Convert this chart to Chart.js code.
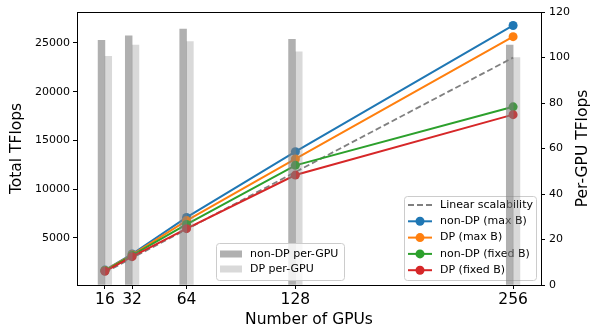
<!DOCTYPE html>
<html>
<head>
<meta charset="utf-8">
<script src="https://cdn.jsdelivr.net/npm/chart.js@4/dist/chart.umd.min.js"></script>
<style>
  html, body { margin: 0; padding: 0; background: #fff; }
</style>
</head>
<body>
<canvas id="chart" width="595" height="329"></canvas>
<script>
/* Scaling of total and per-GPU TFlops */

Chart.defaults.font.family = "'DejaVu Sans', sans-serif";
Chart.defaults.color = '#000';

/* Data */
var GPUS = [16, 32, 64, 128, 256];
var LINEAR = [1470, 2940, 5880, 11760, 23500];
var NONDP_MAX = [1700, 3350, 7100, 13850, 26800];
var DP_MAX = [1660, 3270, 6780, 13100, 25650];
var NONDP_FIXED = [1630, 3200, 6380, 12450, 18450];
var DP_FIXED = [1580, 3080, 5950, 11450, 17650];
var NONDP_PER_GPU = [107.5, 109.5, 112.5, 108, 105.5];
var DP_PER_GPU = [100.5, 105.5, 107, 102.5, 100];

var X_TICKS = [16, 32, 64, 128, 256];
var LEFT_TICKS = [5000, 10000, 15000, 20000, 25000];
var RIGHT_TICKS = [0, 20, 40, 60, 80, 100, 120];

var LINE_LABELS = ['Linear scalability', 'non-DP (max B)', 'DP (max B)', 'non-DP (fixed B)', 'DP (fixed B)'];
var BAR_LABELS = ['non-DP per-GPU', 'DP per-GPU'];

/* Palette */
var C = { blue: '#1f77b4', orange: '#ff7f0e', green: '#2ca02c', red: '#d62728', dash: '#808080',
          barDark: 'rgba(128,128,128,0.62)', barLight: 'rgba(128,128,128,0.3)' };
var LINE_COLORS = [C.dash, C.blue, C.orange, C.green, C.red];
var BAR_COLORS = [C.barDark, C.barLight];
var BAR_SHIFT = 2;   // bars sit either side of each GPU count
var LEGEND_FONT = "11px 'DejaVu Sans', sans-serif";

function pts(xs, ys) {
  return xs.map(function(x, i) { return { x: x, y: ys[i] }; });
}

function lineSet(label, values, color, order) {
  return { type: 'line', label: label, data: pts(GPUS, values), yAxisID: 'y', order: order,
           borderColor: color, backgroundColor: color, borderWidth: 2,
           pointRadius: 4.5, pointBorderWidth: 0, pointBackgroundColor: color };
}

function barSet(label, values, shift, color) {
  return { type: 'bar', label: label, yAxisID: 'y2', order: 0,
           data: GPUS.map(function(g, i) { return { x: g + shift, y: values[i] }; }),
           backgroundColor: color, borderWidth: 0, barThickness: 6.8, grouped: false };
}

function legendBox(ctx, x, y, w, h) {
  ctx.beginPath();
  ctx.roundRect(x + 0.5, y + 0.5, w, h, 3);
  ctx.fillStyle = 'rgba(255,255,255,0.8)';
  ctx.fill();
  ctx.strokeStyle = '#cccccc';
  ctx.lineWidth = 1;
  ctx.stroke();
}

var axisStyle = {
  grid: { display: true, offset: false, drawOnChartArea: false, drawTicks: true, tickLength: 4, tickColor: '#000' },
  border: { display: true, color: '#000', width: 1 }
};

var extras = {
  id: 'mplExtras',
  beforeDatasetsDraw: function(chart) {
    var ctx = chart.ctx, a = chart.chartArea;
    ctx.save();
    // top spine
    ctx.strokeStyle = '#000'; ctx.lineWidth = 1;
    ctx.beginPath(); ctx.moveTo(a.left, a.top + 0.5); ctx.lineTo(a.right, a.top + 0.5); ctx.stroke();

    // line legend (below the bars, like the twin axes in the original)
    var bx = a.right - 137, by = a.bottom - 89, row = 16.3;
    legendBox(ctx, bx, by, 132, 84);
    ctx.font = LEGEND_FONT; ctx.textBaseline = 'middle'; ctx.textAlign = 'left';
    LINE_LABELS.forEach(function(lbl, i) {
      var cy = by + 9 + i * row;
      ctx.strokeStyle = LINE_COLORS[i];
      ctx.lineWidth = i === 0 ? 1.8 : 2;
      ctx.setLineDash(i === 0 ? [6, 3] : []);
      ctx.beginPath(); ctx.moveTo(bx + 4, cy); ctx.lineTo(bx + 28, cy); ctx.stroke();
      ctx.setLineDash([]);
      if (i > 0) {
        ctx.fillStyle = LINE_COLORS[i];
        ctx.beginPath(); ctx.arc(bx + 16, cy, 4.5, 0, Math.PI * 2); ctx.fill();
      }
      ctx.fillStyle = '#000';
      ctx.fillText(lbl, bx + 36, cy);
    });
    ctx.restore();
  },
  afterDatasetsDraw: function(chart) {
    var ctx = chart.ctx, a = chart.chartArea;
    ctx.save();
    // bar legend
    var bx = a.left + 139, by = a.bottom - 42;
    legendBox(ctx, bx, by, 128, 37);
    ctx.font = LEGEND_FONT; ctx.textBaseline = 'middle'; ctx.textAlign = 'left';
    BAR_LABELS.forEach(function(lbl, i) {
      var cy = by + 11 + i * 15;
      ctx.fillStyle = BAR_COLORS[i];
      ctx.fillRect(bx + 4, cy - 3.5, 22, 7);
      ctx.fillStyle = '#000';
      ctx.fillText(lbl, bx + 34, cy);
    });

    // right axis title, reading bottom to top
    ctx.translate(chart.width - 12, (a.top + a.bottom) / 2);
    ctx.rotate(-Math.PI / 2);
    ctx.textAlign = 'center';
    ctx.font = "15.5px 'DejaVu Sans', sans-serif";
    ctx.fillStyle = '#000';
    ctx.fillText('Per-GPU TFlops', 0, 0);
    ctx.restore();
  }
};

new Chart(document.getElementById('chart'), {
  type: 'line',
  data: {
    datasets: [
      barSet(BAR_LABELS[0], NONDP_PER_GPU, -BAR_SHIFT, C.barDark),
      barSet(BAR_LABELS[1], DP_PER_GPU, BAR_SHIFT, C.barLight),
      Object.assign(lineSet(LINE_LABELS[0], LINEAR, C.dash, 6), { borderDash: [6, 3], borderWidth: 1.8, pointRadius: 0 }),
      lineSet(LINE_LABELS[1], NONDP_MAX, C.blue, 5),
      lineSet(LINE_LABELS[2], DP_MAX, C.orange, 4),
      lineSet(LINE_LABELS[3], NONDP_FIXED, C.green, 3),
      lineSet(LINE_LABELS[4], DP_FIXED, C.red, 2)
    ]
  },
  options: {
    responsive: false,
    animation: false,
    layout: { padding: { top: 12, left: 0, right: 0, bottom: 0 } },
    plugins: { legend: { display: false }, tooltip: { enabled: false } },
    scales: {
      x: Object.assign({
        type: 'linear', min: -0.4, max: 272.4, offset: false,
        afterBuildTicks: function(s) { s.ticks = X_TICKS.map(function(v) { return { value: v }; }); },
        afterFit: function(s) { s.height = 44; },
        ticks: { font: { size: 15.5 }, color: '#000', padding: 2, maxRotation: 0, autoSkip: false },
        title: { display: true, text: 'Number of GPUs', font: { size: 15.5, lineHeight: 1.2 }, color: '#000', padding: { top: 0, bottom: 0 } }
      }, axisStyle),
      y: Object.assign({
        position: 'left', min: 170, max: 28180,
        afterBuildTicks: function(s) { s.ticks = LEFT_TICKS.map(function(v) { return { value: v }; }); },
        afterFit: function(s) { s.width = 77; },
        ticks: { font: { size: 11 }, color: '#000', padding: 3, callback: function(v) { return String(v); } },
        title: { display: true, text: 'Total TFlops', font: { size: 15.5, lineHeight: 1.2 }, color: '#000', padding: { top: 8, bottom: 0 } }
      }, axisStyle),
      y2: Object.assign({
        position: 'right', min: 0, max: 120,
        afterBuildTicks: function(s) { s.ticks = RIGHT_TICKS.map(function(v) { return { value: v }; }); },
        afterFit: function(s) { s.width = 54; },
        ticks: { font: { size: 11 }, color: '#000', padding: 4 }
      }, axisStyle)
    }
  },
  plugins: [extras]
});
</script>
</body>
</html>
